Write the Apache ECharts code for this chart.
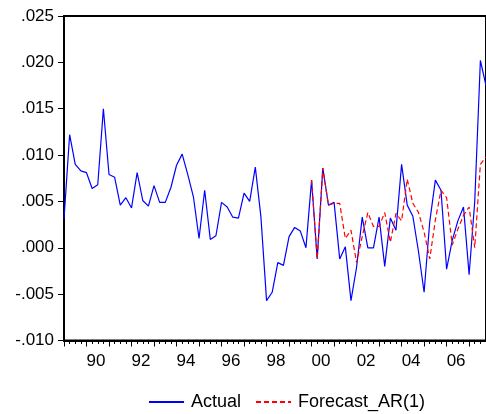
<!DOCTYPE html>
<html>
<head>
<meta charset="utf-8">
<script src="https://cdn.jsdelivr.net/npm/echarts@6/dist/echarts.min.js"></script>
<style>
  html, body { margin: 0; padding: 0; background: #fff; }
  #chart { width: 486px; height: 414px; }
</style>
</head>
<body>
<div id="chart"></div>
<script>
// Quarterly periods 1989Q1 .. 2007Q4
const periods = [];
for (let y = 1989; y <= 2007; y++) {
  for (let q = 1; q <= 4; q++) periods.push(y + 'Q' + q);
}

// Actual series
const actual = [
  0.0031, 0.0122, 0.0090, 0.0083, 0.0081, 0.0064, 0.0068, 0.0150,
  0.0079, 0.0076, 0.0046, 0.0054, 0.0043, 0.0081, 0.0051, 0.0045,
  0.0067, 0.0049, 0.0049, 0.0065, 0.0089, 0.0101, 0.0079, 0.0055,
  0.0010, 0.0062, 0.0009, 0.0013, 0.0049, 0.0044, 0.0033, 0.0032,
  0.0059, 0.0050, 0.0087, 0.0033, -0.0057, -0.0048, -0.0016, -0.0019,
  0.0012, 0.0022, 0.0018, 0.0000, 0.0073, -0.0012, 0.0086, 0.0046,
  0.0049, -0.0012, 0.0001, -0.0057, -0.0021, 0.0033, 0.0000, 0.0000,
  0.0033, -0.0020, 0.0032, 0.0019, 0.0090, 0.0046, 0.0034, -0.0004,
  -0.0048, 0.0028, 0.0073, 0.0062, -0.0023, 0.0008, 0.0029, 0.0044,
  -0.0029, 0.0050, 0.0202, 0.0175
];

// AR(1) forecast, available from 2000Q1
const forecastAR1 = [
  null, null, null, null, null, null, null, null,
  null, null, null, null, null, null, null, null,
  null, null, null, null, null, null, null, null,
  null, null, null, null, null, null, null, null,
  null, null, null, null, null, null, null, null,
  null, null, null, null, 0.0073, -0.0012, 0.0086, 0.0046,
  0.0048, 0.0048, 0.0010, 0.0019, -0.0016, 0.0012, 0.0038, 0.0023,
  0.0023, 0.0038, 0.0006, 0.0037, 0.0029, 0.0074, 0.0048, 0.0038,
  0.0017, -0.0012, 0.0030, 0.0062, 0.0054, 0.0003, 0.0020, 0.0035,
  0.0044, 0.0000, 0.0090, 0.0098
];

const yMin = -0.010, yMax = 0.025, yStep = 0.005;

const font = "'Liberation Sans', Arial, sans-serif";
const isQ1 = (v) => v.endsWith('Q1');
const isEvenYearQ1 = (v) => isQ1(v) && (parseInt(v.slice(0, 4), 10) % 2 === 0);

const chart = echarts.init(document.getElementById('chart'), null, { renderer: 'canvas' });

chart.setOption({
  animation: false,
  backgroundColor: '#ffffff',
  grid: {
    left: 64, right: -3.7, top: 16, bottom: 73.5,
    show: true, borderColor: '#000', borderWidth: 2, backgroundColor: 'transparent'
  },
  legend: {
    left: 143, top: 388,
    itemWidth: 35, itemHeight: 14, itemGap: 14,
    itemStyle: { color: 'rgba(0,0,0,0)', borderColor: 'rgba(0,0,0,0)', borderWidth: 0 },
    textStyle: { fontFamily: font, fontSize: 18, color: '#000', padding: [0, 0, 0, 2] },
    data: ['Actual', 'Forecast_AR(1)']
  },
  xAxis: [
    {
      type: 'category', data: periods, boundaryGap: false, position: 'bottom',
      axisLine: { show: true, onZero: false, lineStyle: { color: '#000', width: 2 } },
      axisTick: { show: true, interval: 0, length: 3.5, lineStyle: { color: '#000', width: 1 } },
      axisLabel: {
        interval: (i, v) => isEvenYearQ1(v),
        formatter: (v) => v.slice(2, 4),
        fontFamily: font, fontSize: 17, color: '#000',
        margin: 12, padding: [0, 0, 0, 19]
      },
      splitLine: { show: false }
    },
    {
      type: 'category', data: periods, boundaryGap: false, position: 'bottom',
      axisLine: { show: false, onZero: false },
      axisTick: { show: true, interval: (i, v) => isQ1(v), length: 6, lineStyle: { color: '#000', width: 1 } },
      axisLabel: { show: false },
      splitLine: { show: false }
    }
  ],
  yAxis: {
    type: 'value', min: yMin, max: yMax, interval: yStep,
    axisLine: { show: true, onZero: false, lineStyle: { color: '#000', width: 2 } },
    axisTick: { show: true, length: 6, lineStyle: { color: '#000', width: 1 } },
    axisLabel: {
      fontFamily: font, fontSize: 17, color: '#000', margin: 10,
      formatter: (v) => v.toFixed(3).replace('0.', '.')
    },
    splitLine: { show: false }
  },
  series: [
    {
      name: 'Actual', type: 'line', data: actual, xAxisIndex: 0,
      symbol: 'none', smooth: false,
      lineStyle: { color: '#0000ff', width: 1.2 },
      itemStyle: { color: '#0000ff' }
    },
    {
      name: 'Forecast_AR(1)', type: 'line', data: forecastAR1, xAxisIndex: 0,
      symbol: 'none', smooth: false, connectNulls: false,
      lineStyle: { color: '#ff0000', width: 1.2, type: [5, 3] },
      itemStyle: { color: '#ff0000' }
    }
  ]
});
</script>
</body>
</html>
